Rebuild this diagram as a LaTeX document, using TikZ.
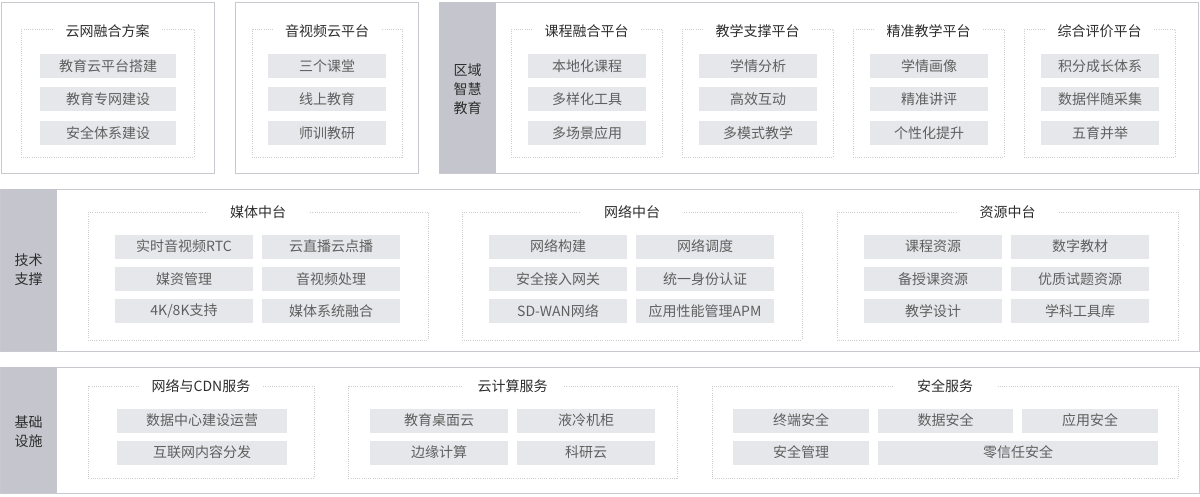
\documentclass[tikz,border=0pt]{standalone}
\usepackage{fontspec}
\setmainfont{Noto Sans CJK SC}
\definecolor{bordercol}{RGB}{200,200,206}
\definecolor{labelfill}{RGB}{197,197,205}
\definecolor{itemfill}{RGB}{230,231,234}
\definecolor{itemtext}{RGB}{95,95,95}
\definecolor{titlecol}{RGB}{45,45,45}
\definecolor{dotcol}{RGB}{205,205,205}
\newcommand\itm[5]{\node[item, minimum width={(#3-#2)*1pt}] (#1) at ({(#2+#3)/2},#4) {#5};}
\begin{document}
\begin{tikzpicture}[x=1pt,y=-1pt,
  outerbox/.style={draw=bordercol, line width=1pt, fill=white},
  labelcol/.style={fill=labelfill},
  grp/.style={draw=dotcol, line width=1pt, dash pattern=on 1pt off 1.2pt},
  ttl/.style={fill=white, inner xsep=12pt, inner ysep=2pt, minimum width=102pt, text=titlecol, font=\fontsize{14pt}{16pt}\selectfont},
  item/.style={fill=itemfill, inner sep=0pt, minimum height=24pt, text=itemtext, font=\fontsize{14pt}{16pt}\selectfont},
  lbl/.style={align=center, text=titlecol, inner sep=0pt, font=\fontsize{14pt}{19pt}\selectfont}]
\useasboundingbox (0,0) rectangle (1200,496);
\fill[white] (0,0) rectangle (1200,496);

% ---------- top row ----------
\draw[outerbox] (1,2) rectangle (214,173);
\draw[grp] (21,29) rectangle (194,157);
\node[ttl] (t1) at (107.5,31) {云网融合方案};
\itm{a1}{40}{176}{66}{教育云平台搭建}
\itm{a2}{40}{176}{99}{教育专网建设}
\itm{a3}{40}{176}{133}{安全体系建设}

\draw[outerbox] (235,2) rectangle (418,173);
\draw[grp] (252,29) rectangle (402,157);
\node[ttl] (t2) at (327,31) {音视频云平台};
\itm{b1}{268}{386}{66}{三个课堂}
\itm{b2}{268}{386}{99}{线上教育}
\itm{b3}{268}{386}{133}{师训教研}

\draw[outerbox] (439,2) rectangle (1198,173);
\fill[labelcol] (439,2) rectangle (496,173);
\node[lbl] (L1) at (467.5,89) {区域\\智慧\\教育};

\draw[grp] (511,29) rectangle (662,157);
\node[ttl] (t3) at (586.5,31) {课程融合平台};
\itm{c1}{528}{646}{66}{本地化课程}
\itm{c2}{528}{646}{99}{多样化工具}
\itm{c3}{528}{646}{133}{多场景应用}

\draw[grp] (682,29) rectangle (833,157);
\node[ttl] (t4) at (757.5,31) {教学支撑平台};
\itm{d1}{699}{817}{66}{学情分析}
\itm{d2}{699}{817}{99}{高效互动}
\itm{d3}{699}{817}{133}{多模式教学}

\draw[grp] (853,29) rectangle (1004,157);
\node[ttl] (t5) at (928.5,31) {精准教学平台};
\itm{e1}{870}{988}{66}{学情画像}
\itm{e2}{870}{988}{99}{精准讲评}
\itm{e3}{870}{988}{133}{个性化提升}

\draw[grp] (1024,29) rectangle (1175,157);
\node[ttl] (t6) at (1099.5,31) {综合评价平台};
\itm{f1}{1041}{1159}{66}{积分成长体系}
\itm{f2}{1041}{1159}{99}{数据伴随采集}
\itm{f3}{1041}{1159}{133}{五育并举}

% ---------- middle row ----------
\draw[outerbox] (0.5,189) rectangle (1199,351);
\fill[labelcol] (0.5,189) rectangle (57,351);
\node[lbl] (L2) at (28.5,270) {技术\\支撑};

\draw[grp] (88,212) rectangle (428,340);
\node[ttl] (t7) at (258,212) {媒体中台};
\itm{g1}{115}{253}{246.5}{实时音视频RTC}
\itm{g2}{262}{400}{246.5}{云直播云点播}
\itm{g3}{115}{253}{279}{媒资管理}
\itm{g4}{262}{400}{279}{音视频处理}
\itm{g5}{115}{253}{311}{4K/8K支持}
\itm{g6}{262}{400}{311}{媒体系统融合}

\draw[grp] (462,212) rectangle (802,340);
\node[ttl] (t8) at (632,212) {网络中台};
\itm{h1}{489}{627}{246.5}{网络构建}
\itm{h2}{636}{774}{246.5}{网络调度}
\itm{h3}{489}{627}{279}{安全接入网关}
\itm{h4}{636}{774}{279}{统一身份认证}
\itm{h5}{489}{627}{311}{SD-WAN网络}
\itm{h6}{636}{774}{311}{应用性能管理APM}

\draw[grp] (837,212) rectangle (1178,340);
\node[ttl] (t9) at (1007.5,212) {资源中台};
\itm{i1}{864}{1002}{246.5}{课程资源}
\itm{i2}{1011}{1149}{246.5}{数字教材}
\itm{i3}{864}{1002}{279}{备授课资源}
\itm{i4}{1011}{1149}{279}{优质试题资源}
\itm{i5}{864}{1002}{311}{教学设计}
\itm{i6}{1011}{1149}{311}{学科工具库}

% ---------- bottom row ----------
\draw[outerbox] (0.5,367) rectangle (1199,493);
\fill[labelcol] (0.5,367) rectangle (57,493);
\node[lbl] (L3) at (28.5,432) {基础\\设施};

\draw[grp] (88,386) rectangle (314,478);
\node[ttl] (t10) at (201,386.5) {网络与CDN服务};
\itm{j1}{117}{287}{420.5}{数据中心建设运营}
\itm{j2}{117}{287}{452.5}{互联网内容分发}

\draw[grp] (348,386) rectangle (677,478);
\node[ttl] (t11) at (512.5,386.5) {云计算服务};
\itm{k1}{370}{508}{420.5}{教育桌面云}
\itm{k2}{517}{655}{420.5}{液冷机柜}
\itm{k3}{370}{508}{452.5}{边缘计算}
\itm{k4}{517}{655}{452.5}{科研云}

\draw[grp] (712,386) rectangle (1178,478);
\node[ttl] (t12) at (945,386.5) {安全服务};
\itm{m1}{733}{869}{420.5}{终端安全}
\itm{m2}{878}{1013}{420.5}{数据安全}
\itm{m3}{1022}{1158}{420.5}{应用安全}
\itm{m4}{733}{869}{452.5}{安全管理}
\itm{m5}{878}{1158}{452.5}{零信任安全}
\end{tikzpicture}
\end{document}
